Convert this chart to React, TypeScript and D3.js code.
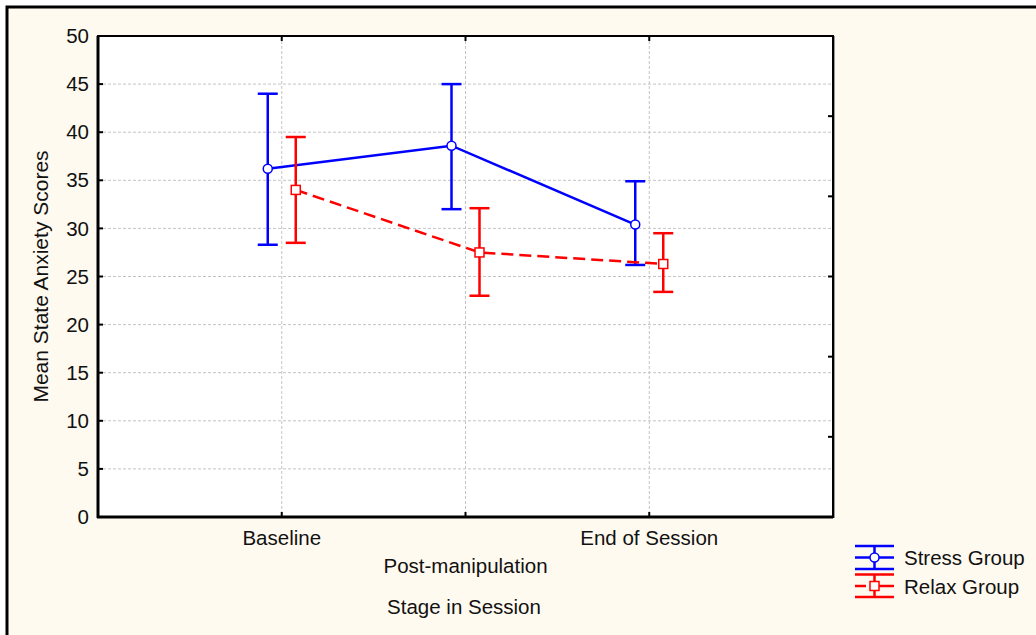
import * as d3 from 'd3';

const categories = ['Baseline', 'Post-manipulation', 'End of Session'];
const stressMean = [36.2, 38.6, 30.4];
const stressUpper = [44.0, 45.0, 34.9];
const stressLower = [28.3, 32.0, 26.2];
const relaxMean = [34.0, 27.5, 26.3];
const relaxUpper = [39.5, 32.1, 29.5];
const relaxLower = [28.5, 23.0, 23.4];
const yTicks = [0, 5, 10, 15, 20, 25, 30, 35, 40, 45, 50];
const rightTicks = [1, 2, 3, 4, 5];

const W = 1036;
const H = 635;
const font = 'Liberation Sans, Arial, sans-serif';
const fs = 20.5;

export default function App() {
  const left = 98, right = 833, top = 36, bottom = 517;

  const x = d3.scalePoint<string>().domain(categories).range([left, right]).padding(1);
  const y = d3.scaleLinear().domain([0, 50]).range([bottom, top]);
  const yRight = d3.scaleLinear().domain([0, 6]).range([bottom, top]);

  const off = 14;
  const cap = 10;

  const series = [
    { name: 'Stress Group', color: '#0000ff', mean: stressMean, up: stressUpper, lo: stressLower, dx: -off, dash: null, marker: 'circle' },
    { name: 'Relax Group', color: '#ff0000', mean: relaxMean, up: relaxUpper, lo: relaxLower, dx: off, dash: '12,6', marker: 'square' },
  ];

  const line = d3.line<[number, number]>().x(d => d[0]).y(d => d[1]);

  return (
    <svg width={W} height={H} style={{ position: 'fixed', left: 0, top: 0 }} fontFamily={font}>
      <rect x={0} y={0} width={W} height={H} fill="#ffffff" />
      <rect x={7} y={7} width={W + 20} height={H + 20} fill="#fffaf0" stroke="#000" strokeWidth={3} />

      {/* plot area */}
      <rect x={left} y={top} width={right - left} height={bottom - top} fill="#ffffff" />

      {/* grid */}
      {yTicks.filter(t => t > 0 && t < 50).map(t => (
        <line key={'gy' + t} x1={left} x2={right} y1={y(t)} y2={y(t)} stroke="#c4c4c4" strokeWidth={1} strokeDasharray="3,2" />
      ))}
      {categories.map(c => (
        <line key={'gx' + c} x1={x(c)} x2={x(c)} y1={top} y2={bottom} stroke="#c4c4c4" strokeWidth={1} strokeDasharray="3,2" />
      ))}

      {/* frame */}
      <line x1={right + 1} x2={right + 1} y1={top} y2={bottom + 1} stroke="#999" strokeWidth={2} />
      <rect x={left} y={top} width={right - left} height={bottom - top} fill="none" stroke="#000" strokeWidth={2} />
      <line x1={left} x2={left} y1={top} y2={bottom + 1} stroke="#000" strokeWidth={3} />
      <line x1={left - 1} x2={right} y1={bottom} y2={bottom} stroke="#000" strokeWidth={3} />

      {/* ticks */}
      {yTicks.map(t => (
        <g key={'yt' + t}>
          <line x1={left} x2={left + 5} y1={y(t)} y2={y(t)} stroke="#000" strokeWidth={2} />
          <text x={89} y={y(t)} dy="0.35em" textAnchor="end" fontSize={fs} fill="#111">{t}</text>
        </g>
      ))}
      {rightTicks.map(t => (
        <line key={'rt' + t} x1={right - 5} x2={right} y1={yRight(t)} y2={yRight(t)} stroke="#000" strokeWidth={2} />
      ))}
      {categories.map((c, i) => (
        <g key={'xt' + c}>
          <line x1={x(c)} x2={x(c)} y1={bottom} y2={bottom - 5} stroke="#000" strokeWidth={2} />
          <line x1={x(c)} x2={x(c)} y1={top} y2={top + 5} stroke="#000" strokeWidth={2} />
          <text x={x(c)} y={i % 2 === 0 ? 545 : 573} textAnchor="middle" fontSize={fs} fill="#111">{c}</text>
        </g>
      ))}

      {/* axis titles */}
      <text x={464} y={614} textAnchor="middle" fontSize={fs} fill="#111">Stage in Session</text>
      <text transform={`translate(48,${(top + bottom) / 2}) rotate(-90)`} textAnchor="middle" fontSize={21} fill="#111">Mean State Anxiety Scores</text>

      {/* series */}
      {series.map(s => {
        const pts: [number, number][] = categories.map((c, i) => [(x(c) as number) + s.dx, y(s.mean[i])]);
        return (
          <g key={s.name}>
            <path d={line(pts) || ''} fill="none" stroke={s.color} strokeWidth={2.5} strokeDasharray={s.dash || undefined} />
            {categories.map((c, i) => {
              const cx = (x(c) as number) + s.dx;
              return (
                <g key={c}>
                  <line x1={cx} x2={cx} y1={y(s.up[i])} y2={y(s.lo[i])} stroke={s.color} strokeWidth={2.5} />
                  <line x1={cx - cap} x2={cx + cap} y1={y(s.up[i])} y2={y(s.up[i])} stroke={s.color} strokeWidth={2.5} />
                  <line x1={cx - cap} x2={cx + cap} y1={y(s.lo[i])} y2={y(s.lo[i])} stroke={s.color} strokeWidth={2.5} />
                  {s.marker === 'circle'
                    ? <circle cx={cx} cy={y(s.mean[i])} r={4.5} fill="#fff" stroke={s.color} strokeWidth={1.5} />
                    : <rect x={cx - 4.5} y={y(s.mean[i]) - 4.5} width={9} height={9} fill="#fff" stroke={s.color} strokeWidth={1.5} />}
                </g>
              );
            })}
          </g>
        );
      })}

      {/* legend */}
      <g>
        <line x1={855} x2={894} y1={546} y2={546} stroke="#0000ff" strokeWidth={2.5} />
        <line x1={855} x2={894} y1={557.5} y2={557.5} stroke="#0000ff" strokeWidth={2.5} />
        <line x1={855} x2={894} y1={569} y2={569} stroke="#0000ff" strokeWidth={2.5} />
        <line x1={874.5} x2={874.5} y1={546} y2={569} stroke="#0000ff" strokeWidth={2.5} />
        <circle cx={874.5} cy={557.5} r={4.5} fill="#fff" stroke="#0000ff" strokeWidth={1.5} />
        <text x={904} y={565} fontSize={fs} fill="#111">Stress Group</text>

        <line x1={855} x2={894} y1={574.5} y2={574.5} stroke="#ff0000" strokeWidth={2.5} />
        <line x1={855} x2={894} y1={586} y2={586} stroke="#ff0000" strokeWidth={2.5} strokeDasharray="11,4,24" />
        <line x1={855} x2={894} y1={597} y2={597} stroke="#ff0000" strokeWidth={2.5} />
        <line x1={874.5} x2={874.5} y1={574.5} y2={597} stroke="#ff0000" strokeWidth={2.5} />
        <rect x={870} y={581.5} width={9} height={9} fill="#fff" stroke="#ff0000" strokeWidth={1.5} />
        <text x={904} y={593.5} fontSize={fs} fill="#111">Relax Group</text>
      </g>
    </svg>
  );
}
